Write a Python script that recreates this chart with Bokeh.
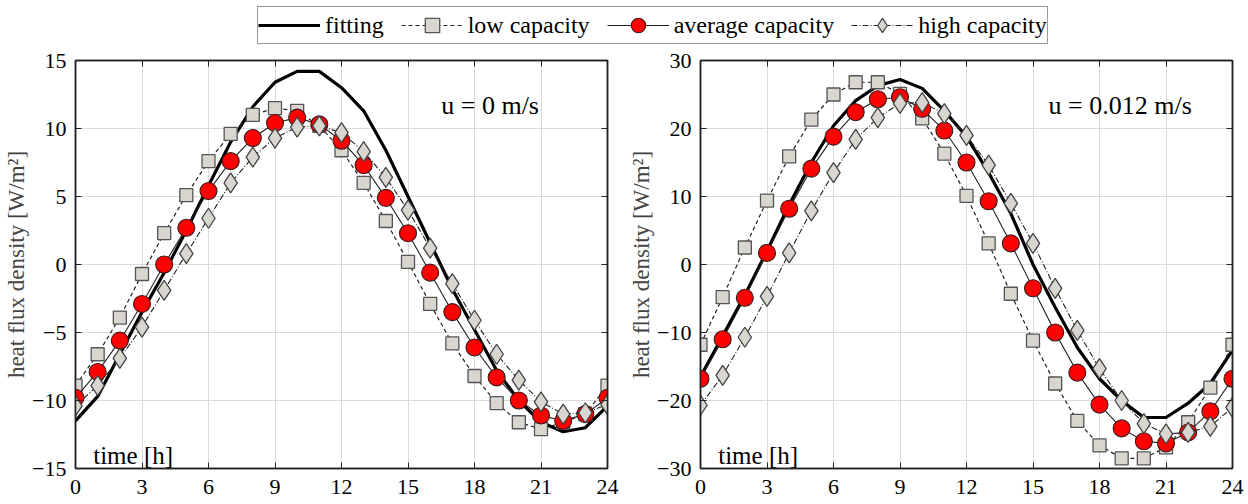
from bokeh.plotting import figure
from bokeh.models import Legend, LegendItem, LinearAxis, Label, FixedTicker, Range1d, ColumnDataSource
from bokeh.layouts import column, row
from bokeh.embed import file_html
from bokeh.resources import INLINE

# ---- data ----
hours = list(range(25))

# left panel, u = 0 m/s
fit_u0 = [-11.5, -9.7, -6.6, -3.5, -0.6, 2.5, 5.8, 9.0, 11.6, 13.4, 14.2, 14.2, 13.0, 11.3, 8.4, 5.0, 1.6,
          -1.8, -4.8, -7.8, -10.0, -11.6, -12.3, -12.0, -10.4]
low_u0 = [-8.9, -6.6, -3.9, -0.7, 2.3, 5.1, 7.6, 9.6, 11.0, 11.5, 11.3, 10.2, 8.4, 6.0, 3.2, 0.2, -2.9,
          -5.8, -8.2, -10.2, -11.6, -12.1, -11.6, -11.0, -8.9]
avg_u0 = [-9.8, -7.9, -5.6, -2.9, 0.0, 2.7, 5.4, 7.6, 9.3, 10.4, 10.8, 10.3, 9.1, 7.3, 4.9, 2.3, -0.6,
          -3.5, -6.1, -8.3, -10.0, -11.1, -11.5, -11.0, -9.8]
high_u0 = [-10.4, -8.9, -6.9, -4.6, -1.9, 0.8, 3.4, 6.0, 7.9, 9.3, 10.1, 10.2, 9.7, 8.3, 6.4, 4.0, 1.2,
           -1.4, -4.1, -6.6, -8.5, -10.1, -11.0, -10.9, -10.3]

# right panel, u = 0.012 m/s
fit_u1 = [-16.5, -10.5, -4.5, 2.0, 8.8, 15.0, 20.4, 24.1, 26.3, 27.2, 25.9, 22.6, 18.8, 13.5, 7.5, 0.0,
          -6.3, -12.2, -16.8, -20.0, -22.5, -22.5, -20.4, -17.5, -12.6]
low_u1 = [-11.8, -4.8, 2.5, 9.4, 15.9, 21.3, 25.0, 26.8, 26.8, 25.1, 21.5, 16.3, 10.1, 3.1, -4.3, -11.2,
          -17.5, -23.0, -26.6, -28.5, -28.5, -26.9, -23.2, -18.1, -11.8]
avg_u1 = [-16.8, -11.0, -4.9, 1.7, 8.2, 14.1, 18.8, 22.4, 24.3, 24.6, 22.9, 19.7, 15.0, 9.3, 3.1, -3.5,
          -10.0, -15.9, -20.6, -24.1, -26.0, -26.3, -24.7, -21.6, -16.8]
high_u1 = [-20.7, -16.3, -10.7, -4.7, 1.7, 7.9, 13.5, 18.4, 21.6, 23.7, 23.8, 22.2, 19.0, 14.6, 9.0, 3.1,
           -3.5, -9.7, -15.3, -20.0, -23.4, -24.9, -24.7, -23.8, -21.0]

x_ticks = [0, 3, 6, 9, 12, 15, 18, 21, 24]
y_ticks_u0 = [-15, -10, -5, 0, 5, 10, 15]
y_ticks_u1 = [-30, -20, -10, 0, 10, 20, 30]

series_names = ["fitting", "low capacity", "average capacity", "high capacity"]
notes = ["u = 0 m/s", "u = 0.012 m/s"]
y_label = "heat flux density [W/m\u00b2]"
x_note = "time [h]"

FONT = "Liberation Serif"
GRAY_FILL = "#d9d6d0"

STYLE = dict(
    fit=dict(line_color="black", line_width=3.2),
    low_line=dict(line_color="#222222", line_width=1.2, line_dash="4 3"),
    low_mark=dict(marker="square", size=13, fill_color=GRAY_FILL, line_color="#555555", line_width=1.3),
    avg_line=dict(line_color="#222222", line_width=1.1),
    avg_mark=dict(marker="circle", size=17, fill_color="#ff0000", line_color="#3a1a1a", line_width=1.1),
    high_line=dict(line_color="#222222", line_width=1.1, line_dash="6 2 1 2"),
    high_mark=dict(marker="diamond", size=20, fill_color=GRAY_FILL, line_color="#444444", line_width=1.3),
)


def make_panel(fit, low, avg, high, yr, yt, note, note_pos, time_pos, border_left, border_right):
    p = figure(frame_width=532, frame_height=408, x_range=Range1d(0, 24), y_range=Range1d(*yr),
               output_backend="svg", toolbar_location=None,
               min_border_left=border_left, min_border_right=border_right,
               min_border_top=13, min_border_bottom=36)
    src = ColumnDataSource(dict(t=hours, fit=fit, low=low, avg=avg, high=high))
    p.line("t", "fit", source=src, **STYLE["fit"])
    p.line("t", "low", source=src, **STYLE["low_line"])
    p.scatter("t", "low", source=src, **STYLE["low_mark"])
    p.line("t", "avg", source=src, **STYLE["avg_line"])
    p.scatter("t", "avg", source=src, **STYLE["avg_mark"])
    p.line("t", "high", source=src, **STYLE["high_line"])
    p.scatter("t", "high", source=src, **STYLE["high_mark"])

    for ax, ticks in ((p.xaxis[0], x_ticks), (p.yaxis[0], yt)):
        ax.ticker = FixedTicker(ticks=ticks)
        ax.major_label_text_font = FONT
        ax.major_label_text_font_size = "22px"
        ax.major_label_text_color = "black"
        ax.major_tick_in = 6
        ax.major_tick_out = 0
        ax.minor_tick_line_color = None
        ax.axis_line_width = 1.5
        ax.axis_line_color = "#222222"
        ax.major_tick_line_color = "#222222"
    p.xaxis[0].major_label_standoff = 11
    p.yaxis[0].major_label_standoff = 9
    p.yaxis[0].axis_label = y_label
    p.yaxis[0].axis_label_text_font = FONT
    p.yaxis[0].axis_label_text_font_size = "23px"
    p.yaxis[0].axis_label_text_font_style = "normal"
    p.yaxis[0].axis_label_standoff = 0

    for loc, ticks in (("right", yt), ("above", x_ticks)):
        ax = LinearAxis(ticker=FixedTicker(ticks=ticks), major_label_text_font_size="1px",
                        major_label_overrides={t: "" for t in ticks},
                        major_tick_in=6, major_tick_out=0, minor_tick_line_color=None,
                        axis_line_width=1.5, axis_line_color="#222222", major_tick_line_color="#222222",
                        major_label_standoff=0)
        p.add_layout(ax, loc)

    p.xgrid.ticker = FixedTicker(ticks=x_ticks)
    p.ygrid.ticker = FixedTicker(ticks=yt)
    p.grid.grid_line_color = "#dadada"
    p.grid.grid_line_width = 1
    p.outline_line_color = "#222222"
    p.outline_line_width = 1.5

    p.add_layout(Label(x=note_pos[0], y=note_pos[1], text=note, text_font=FONT, text_font_size="26px",
                       text_color="black", text_baseline="alphabetic"))
    p.add_layout(Label(x=time_pos[0], y=time_pos[1], text=x_note, text_font=FONT, text_font_size="25px",
                       text_color="black", text_baseline="alphabetic"))
    return p


p1 = make_panel(fit_u0, low_u0, avg_u0, high_u0, (-15, 15), y_ticks_u0, notes[0], (16.5, 11.7),
                (0.8, -14.05), 75, 16)
p2 = make_panel(fit_u1, low_u1, avg_u1, high_u1, (-30, 30), y_ticks_u1, notes[1], (15.7, 23.4),
                (0.8, -28.1), 77, 16)

# legend strip (its renderers hold points that lie outside the strip's ranges)
lf = figure(width=1248, height=47, x_range=Range1d(50, 51), y_range=Range1d(50, 51),
            output_backend="svg", toolbar_location=None, min_border=0,
            x_axis_location=None, y_axis_location=None)
lf.grid.visible = False
lf.outline_line_color = None
r_fit = lf.line(x=hours[:2], y=fit_u0[:2], **STYLE["fit"])
r_low_l = lf.line(x=hours[:2], y=low_u0[:2], **STYLE["low_line"])
r_low_m = lf.scatter(x=hours[:1], y=low_u0[:1], **STYLE["low_mark"])
r_avg_l = lf.line(x=hours[:2], y=avg_u0[:2], **STYLE["avg_line"])
r_avg_m = lf.scatter(x=hours[:1], y=avg_u0[:1], **STYLE["avg_mark"])
r_high_l = lf.line(x=hours[:2], y=high_u0[:2], **STYLE["high_line"])
r_high_m = lf.scatter(x=hours[:1], y=high_u0[:1], **STYLE["high_mark"])
legend = Legend(items=[
    LegendItem(label=series_names[0], renderers=[r_fit]),
    LegendItem(label=series_names[1], renderers=[r_low_l, r_low_m]),
    LegendItem(label=series_names[2], renderers=[r_avg_l, r_avg_m]),
    LegendItem(label=series_names[3], renderers=[r_high_l, r_high_m]),
], orientation="horizontal", location=(257, 3), margin=0, padding=0, spacing=17,
    glyph_width=62, glyph_height=36, label_standoff=5,
    label_text_font=FONT, label_text_font_size="24px", label_text_color="black",
    border_line_color="#333333", border_line_width=1.2, background_fill_alpha=1.0)
lf.add_layout(legend, "center")

layout = column(lf, row(p1, p2, spacing=0), spacing=0)
open("out.html", "w").write(file_html(layout, INLINE))
